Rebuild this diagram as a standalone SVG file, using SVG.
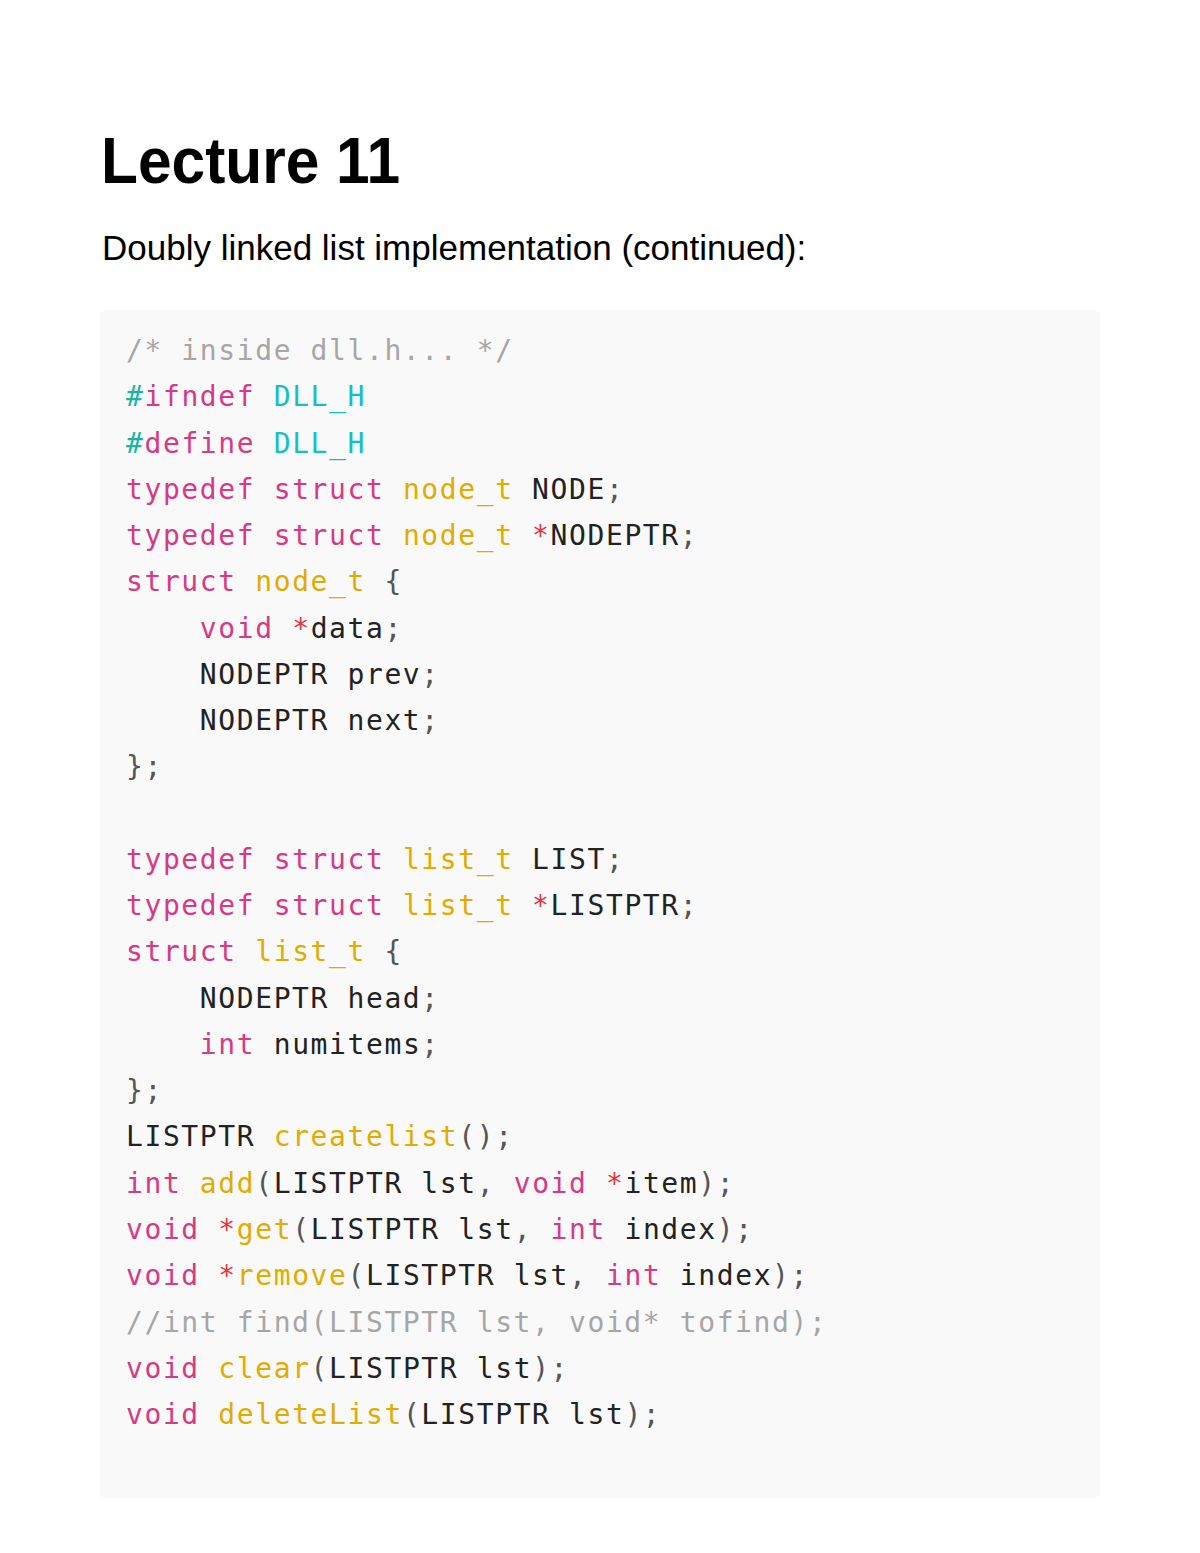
<svg xmlns="http://www.w3.org/2000/svg" width="1200" height="1553" viewBox="0 0 1200 1553">
<style>
.title{font-family:"Liberation Sans",Arial,sans-serif;font-weight:bold;font-size:65px;fill:#000}
.sub{font-family:"Liberation Sans",Arial,sans-serif;font-size:35px;fill:#000}
.code{font-family:"DejaVu Sans Mono",monospace;font-size:28px;letter-spacing:1.6px;fill:#222;white-space:pre}
.k{fill:#d63a85}
.t{fill:#e2ab00}
.m{fill:#14bfc6}
.h{fill:#1ab3a6}
.r{fill:#e8333a}
.c{fill:#a6a6a6}
.p{fill:#555}
</style>
<rect width="1200" height="1553" fill="#ffffff"/>
<g id="heading">
<text class="title" x="101" y="183" textLength="299" lengthAdjust="spacingAndGlyphs">Lecture 11</text>
<text class="sub" x="102" y="260">Doubly linked list implementation (continued):</text>
</g>
<g id="codeblock" xml:space="preserve">
<rect x="100" y="310" width="1000" height="1188" rx="6" fill="#f9f9f9"/>
<text class="code" x="126" y="360"><tspan class="c">/* inside dll.h... */</tspan></text>
<text class="code" x="126" y="406.3"><tspan class="h">#</tspan><tspan class="k">ifndef</tspan> <tspan class="m">DLL_H</tspan></text>
<text class="code" x="126" y="452.5"><tspan class="h">#</tspan><tspan class="k">define</tspan> <tspan class="m">DLL_H</tspan></text>
<text class="code" x="126" y="498.8"><tspan class="k">typedef</tspan> <tspan class="k">struct</tspan> <tspan class="t">node_t</tspan> NODE<tspan class="p">;</tspan></text>
<text class="code" x="126" y="545"><tspan class="k">typedef</tspan> <tspan class="k">struct</tspan> <tspan class="t">node_t</tspan> <tspan class="r">*</tspan>NODEPTR<tspan class="p">;</tspan></text>
<text class="code" x="126" y="591.3"><tspan class="k">struct</tspan> <tspan class="t">node_t</tspan> <tspan class="p">{</tspan></text>
<text class="code" x="126" y="637.6">    <tspan class="k">void</tspan> <tspan class="r">*</tspan>data<tspan class="p">;</tspan></text>
<text class="code" x="126" y="683.8">    NODEPTR prev<tspan class="p">;</tspan></text>
<text class="code" x="126" y="730.1">    NODEPTR next<tspan class="p">;</tspan></text>
<text class="code" x="126" y="776.3"><tspan class="p">};</tspan></text>
<text class="code" x="126" y="868.9"><tspan class="k">typedef</tspan> <tspan class="k">struct</tspan> <tspan class="t">list_t</tspan> LIST<tspan class="p">;</tspan></text>
<text class="code" x="126" y="915.1"><tspan class="k">typedef</tspan> <tspan class="k">struct</tspan> <tspan class="t">list_t</tspan> <tspan class="r">*</tspan>LISTPTR<tspan class="p">;</tspan></text>
<text class="code" x="126" y="961.4"><tspan class="k">struct</tspan> <tspan class="t">list_t</tspan> <tspan class="p">{</tspan></text>
<text class="code" x="126" y="1007.6">    NODEPTR head<tspan class="p">;</tspan></text>
<text class="code" x="126" y="1053.9">    <tspan class="k">int</tspan> numitems<tspan class="p">;</tspan></text>
<text class="code" x="126" y="1100.2"><tspan class="p">};</tspan></text>
<text class="code" x="126" y="1146.4">LISTPTR <tspan class="t">createlist</tspan><tspan class="p">();</tspan></text>
<text class="code" x="126" y="1192.7"><tspan class="k">int</tspan> <tspan class="t">add</tspan><tspan class="p">(</tspan>LISTPTR lst<tspan class="p">,</tspan> <tspan class="k">void</tspan> <tspan class="r">*</tspan>item<tspan class="p">);</tspan></text>
<text class="code" x="126" y="1238.9"><tspan class="k">void</tspan> <tspan class="r">*</tspan><tspan class="t">get</tspan><tspan class="p">(</tspan>LISTPTR lst<tspan class="p">,</tspan> <tspan class="k">int</tspan> index<tspan class="p">);</tspan></text>
<text class="code" x="126" y="1285.2"><tspan class="k">void</tspan> <tspan class="r">*</tspan><tspan class="t">remove</tspan><tspan class="p">(</tspan>LISTPTR lst<tspan class="p">,</tspan> <tspan class="k">int</tspan> index<tspan class="p">);</tspan></text>
<text class="code" x="126" y="1331.5"><tspan class="c">//int find(LISTPTR lst, void* tofind);</tspan></text>
<text class="code" x="126" y="1377.7"><tspan class="k">void</tspan> <tspan class="t">clear</tspan><tspan class="p">(</tspan>LISTPTR lst<tspan class="p">);</tspan></text>
<text class="code" x="126" y="1424"><tspan class="k">void</tspan> <tspan class="t">deleteList</tspan><tspan class="p">(</tspan>LISTPTR lst<tspan class="p">);</tspan></text>
</g>
</svg>
